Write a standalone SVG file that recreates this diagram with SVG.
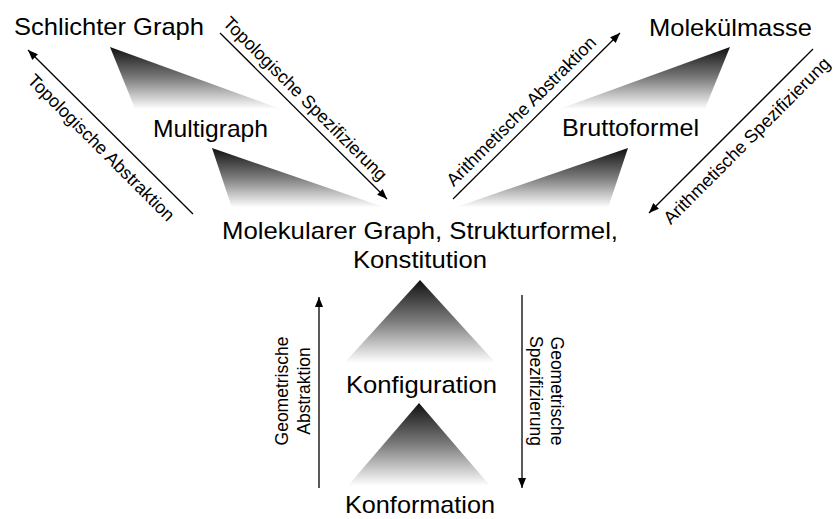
<svg xmlns="http://www.w3.org/2000/svg" width="835" height="519" viewBox="0 0 835 519">
  <style>
    .lbl { font-family: "Liberation Sans", Arial, Helvetica, sans-serif; font-size: 24px; fill: #000; }
    .arr { font-family: "Liberation Sans", Arial, Helvetica, sans-serif; font-size: 18px; fill: #000; text-anchor: middle; }
    .vlbl { font-family: "Liberation Sans", Arial, Helvetica, sans-serif; font-size: 17.5px; fill: #000; text-anchor: middle; }
    .conn { stroke: #000; stroke-width: 1.3; fill: none; marker-end: url(#head); }
    .fade { stroke: none; fill: url(#shade); }
  </style>
  <defs>
    <marker id="head" markerUnits="userSpaceOnUse" markerWidth="10" markerHeight="8" refX="10" refY="4" orient="auto">
      <path d="M0,0 L10,4 L0,8 z" fill="#000"/>
    </marker>
    <linearGradient id="shade" x1="0" y1="0" x2="0" y2="1">
      <stop offset="0" stop-color="#111"/>
      <stop offset="0.45" stop-color="#7c7c7c"/>
      <stop offset="0.9" stop-color="#fff"/>
    </linearGradient>
  </defs>
  <rect width="835" height="519" fill="#fff"/>

  <!-- shaded wedges between levels -->
  <g id="wedges">
    <polygon class="fade" points="110,47 138,116 300,116"/>
    <polygon class="fade" points="212,148 234,214 404,214"/>
    <polygon class="fade" points="730,47 702,116 540,116"/>
    <polygon class="fade" points="628,148 606,214 436,214"/>
    <polygon class="fade" points="420,280 336,372 504,372"/>
    <polygon class="fade" points="419,403 340,495 498,495"/>
  </g>

  <!-- nodes -->
  <g id="schlichter-graph"><text class="lbl" x="14" y="35" textLength="190" lengthAdjust="spacingAndGlyphs">Schlichter Graph</text></g>
  <g id="multigraph"><text class="lbl" x="153" y="137" textLength="115" lengthAdjust="spacingAndGlyphs">Multigraph</text></g>
  <g id="molekuelmasse"><text class="lbl" x="649" y="36" textLength="163" lengthAdjust="spacingAndGlyphs">Molekülmasse</text></g>
  <g id="bruttoformel"><text class="lbl" x="562" y="136" textLength="137" lengthAdjust="spacingAndGlyphs">Bruttoformel</text></g>
  <g id="molekularer-graph">
    <text class="lbl" x="222" y="239" textLength="396" lengthAdjust="spacingAndGlyphs">Molekularer Graph, Strukturformel,</text>
    <text class="lbl" x="353" y="268" textLength="134" lengthAdjust="spacingAndGlyphs">Konstitution</text>
  </g>
  <g id="konfiguration"><text class="lbl" x="346" y="393" textLength="151" lengthAdjust="spacingAndGlyphs">Konfiguration</text></g>
  <g id="konformation"><text class="lbl" x="345" y="513" textLength="150" lengthAdjust="spacingAndGlyphs">Konformation</text></g>

  <!-- connectors -->
  <g id="connectors">
    <line class="conn" x1="193" y1="214" x2="28" y2="50"/>
    <line class="conn" x1="220" y1="33" x2="387" y2="199"/>
    <line class="conn" x1="453" y1="199" x2="620" y2="33"/>
    <line class="conn" x1="813" y1="49" x2="649" y2="213"/>
    <line class="conn" x1="319" y1="488" x2="319" y2="297"/>
    <line class="conn" x1="522" y1="295" x2="522" y2="488"/>

    <text class="arr" transform="translate(97,152) rotate(45)">Topologische Abstraktion</text>
    <text class="arr" transform="translate(301,103) rotate(45)">Topologische Spezifizierung</text>
    <text class="arr" transform="translate(525.5,115.5) rotate(-45)">Arithmetische Abstraktion</text>
    <text class="arr" transform="translate(751,145) rotate(-45)">Arithmetische Spezifizierung</text>

    <text class="vlbl" transform="translate(288,391) rotate(-90)">Geometrische</text>
    <text class="vlbl" transform="translate(310,391) rotate(-90)">Abstraktion</text>
    <text class="vlbl" transform="translate(551,391) rotate(90)">Geometrische</text>
    <text class="vlbl" transform="translate(530,391) rotate(90)">Spezifizierung</text>
  </g>
</svg>
